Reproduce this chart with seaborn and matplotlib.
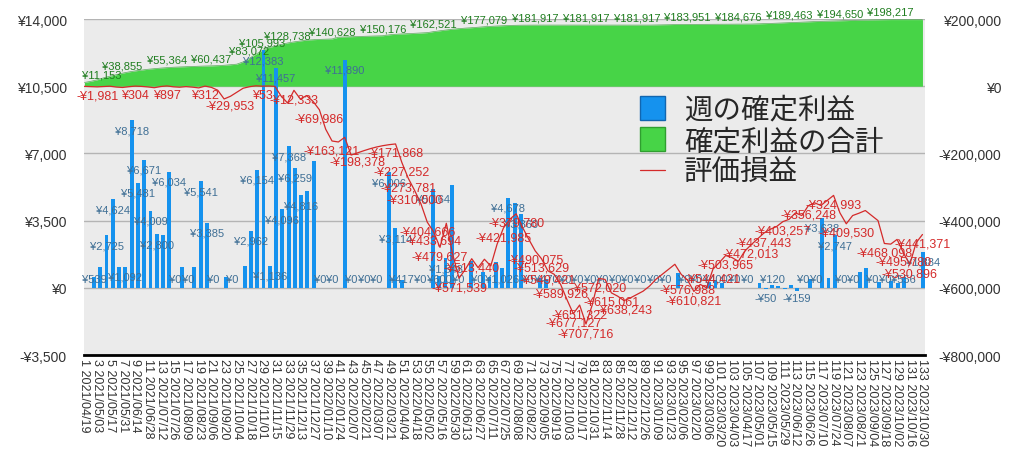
import matplotlib
matplotlib.use("Agg")
import matplotlib.pyplot as plt
from matplotlib.patches import Patch
from matplotlib.lines import Line2D
from matplotlib.transforms import Bbox
import numpy as np
import pandas as pd
import seaborn as sns

# ---- data ----
week_dates = pd.date_range("2021-04-19", periods=133, freq="7D")
week_no = np.arange(1, 134)

# 週の確定利益 (left axis, yen)
weekly_profit = [
    539, 1092, 2725, 4624, 1092, 1092, 8718, 5481, 6671, 4009,
    2800, 2751, 6034, 0, 1086, 0, 1086, 5541, 3385, 0,
    0, 539, 0, 0, 1111, 2962, 6154, 12383, 1136, 11457,
    4096, 7368, 6259, 4816, 5054, 6615, 0, 0, 0, 0,
    11890, 0, 0, 0, 0, 0, 0, 6006, 3114, 417,
    0, 0, 0, 0, 5164, 600, 1548, 5346, 0, 0,
    1374, 0, 817, 556, 1339, 1026, 4678, 4421, 3860, 0,
    0, 504, 470, 0, 0, 0, 0, 0, 0, 0,
    0, 0, 0, 0, 0, 0, 0, 0, 0, 0,
    0, 0, 0, 765, 0, 0, 0, 0, 300, 400,
    250, 0, 0, 0, 0, 0, 265, -50, 120, 106,
    -60, 156, -159, 0, 470, 0, 3638, 522, 2747, 0,
    0, 0, 817, 1043, 0, 296, 0, 348, 271, 556,
    0, 0, 1884,
]

# 確定利益の合計 (right axis, yen)
total_profit = [
    11153, 14500, 18900, 24800, 29700, 34200, 38855, 42500, 45600, 48100,
    50400, 52300, 53900, 55364, 56500, 57300, 58100, 58900, 59500, 60000,
    60437, 61200, 62300, 63800, 65600, 72400, 83072, 95400, 105993, 114800,
    119600, 124100, 128738, 131900, 134600, 137200, 138400, 139300, 140000, 140628,
    145800, 146600, 147300, 147900, 148500, 149100, 149700, 150176, 152900, 154600,
    155500, 156300, 157100, 158000, 159400, 162521, 164900, 167600, 169800, 171500,
    172900, 174100, 175700, 177079, 178300, 179200, 180100, 180900, 181400, 181700,
    181850, 181917, 181917, 181917, 181917, 181917, 181917, 181917, 181917, 181917,
    181917, 181917, 181917, 181917, 181917, 181917, 181917, 181917, 181917, 181917,
    182300, 182800, 183200, 183700, 183850, 183951, 184000, 184100, 184250, 184300,
    184400, 184500, 184600, 184676, 184800, 185000, 185500, 186100, 186800, 187600,
    188500, 189463, 190100, 190800, 191500, 192300, 193000, 193600, 194100, 194650,
    195200, 195800, 196300, 196800, 197200, 197600, 197900, 198217, 198217, 198217,
    198217, 198217, 198217,
]

# 評価損益 (right axis, yen)
unrealized = [
    -500, -1200, -1981, -900, 0, -2500, -3800, -1500, 304, -600,
    -2200, -4500, -1000, 897, -1800, -3000, -1200, -2800, -5000, 312,
    -3500, -12000, -38000, -29953, -18000, -6000, -1500, 1200, 53, 600,
    -500, -30000, -50000, -12333, -38000, -28000, -45000, -69986, -128000, -163121,
    -166000, -152000, -205000, -198378, -192000, -186000, -181000, -177000, -174000, -171868,
    -227252, -273781, -310000, -350000, -404666, -433694, -479627, -408000, -500000, -571539,
    -545000, -513440, -540000, -515000, -535000, -470000, -421985, -396000, -379780, -420000,
    -456000, -490075, -513629, -549421, -560000, -589926, -635000, -677127, -651322, -707716,
    -650000, -572020, -575000, -615061, -625000, -638243, -630000, -620000, -610000, -595000,
    -575000, -560000, -545000, -530000, -560000, -576988, -610821, -590000, -600000, -544421,
    -525000, -503965, -510000, -521000, -491000, -472013, -455000, -437443, -426000, -418000,
    -403257, -396000, -377000, -385000, -356248, -347000, -355000, -340000, -324993, -377000,
    -409530, -385000, -378000, -370000, -385000, -400000, -468098, -470000, -456000, -495780,
    -530896, -466000, -441371,
]

total_label_weeks = [1, 7, 14, 21, 27, 29, 33, 40, 48, 56, 64, 72, 80, 88,
                     96, 104, 112, 120, 128]
unrealized_label_weeks = [3, 9, 14, 20, 24, 29, 34, 38, 40, 44, 50, 51, 52, 53,
                          55, 56, 57, 60, 62, 67, 69, 72, 73, 74, 76, 78, 79, 80,
                          82, 84, 86, 96, 97, 100, 102, 106, 108, 111, 115, 119,
                          121, 127, 130, 131, 133]

left_ticks = [-3500, 0, 3500, 7000, 10500, 14000]
right_ticks = [-800000, -600000, -400000, -200000, 0, 200000]

assert len(weekly_profit) == len(total_profit) == len(unrealized) == 133


def yen(v):
    return f"-¥{abs(v):,}" if v < 0 else f"¥{v:,}"


BAR = "#1592ee"
BAR_EDGE = "#1166b0"
GREEN = "#47d447"
RED = "#d42a2a"
BLUE_TXT = "#3f6f95"
GREEN_TXT = "#1f7d1f"

sns.set_theme(style="white")
plt.rcParams["font.family"] = ["Liberation Sans", "Noto Sans CJK JP", "DejaVu Sans"]

fig = plt.figure(figsize=(10.24, 4.77), dpi=100)
rect = [83.5 / 1024, 1 - 356 / 477, (925 - 83.5) / 1024, (356 - 20) / 477]
ax_r = fig.add_axes(rect)                                   # area + right scale
ax_b = fig.add_axes(rect)                                   # bars, left scale
ax_l = fig.add_axes(rect, sharex=ax_r, sharey=ax_r)         # line + labels

idx = np.arange(133)

# cumulative realised profit as area
ax_r.set_facecolor("#ebebeb")
ax_r.fill_between(idx, 0, total_profit, color=GREEN, lw=0, zorder=1)
ax_r.plot(idx, total_profit, color="#5aa85a", lw=0.5, zorder=1.1)
ax_r.set_axisbelow(True)
ax_r.yaxis.grid(True, color="#b4b4b4", lw=1)
for s in ["top", "left", "right"]:
    ax_r.spines[s].set_visible(False)
ax_r.spines["bottom"].set_color("black")
ax_r.spines["bottom"].set_linewidth(2)
ax_r.yaxis.tick_right()
ax_r.set_yticks(right_ticks)
ax_r.set_yticklabels([yen(v) for v in right_ticks], fontsize=10, color="#333333")
for t in ax_r.get_yticklabels():
    t.set_ha("right")
ax_r.tick_params(axis="y", length=0, pad=55)
ax_r.set_xticks(idx[::2])
ax_r.set_xticklabels([f"{w} {d:%Y/%m/%d}" for w, d in zip(week_no[::2], week_dates[::2])],
                     rotation=270, fontsize=9, color="#333333")
ax_r.tick_params(axis="x", length=0, pad=2.5)

# weekly bars
sns.barplot(x=idx, y=weekly_profit, ax=ax_b, color=BAR, width=0.62, saturation=1,
            linewidth=0)
ax_b.patch.set_visible(False)
for s in ax_b.spines.values():
    s.set_visible(False)
ax_b.set_xlim(-1.67, 132.37)
ax_b.set_ylim(-3500, 14000)
ax_b.set_xticks([])
ax_b.set_xlabel("")
ax_b.set_yticks(left_ticks)
ax_b.set_yticklabels([yen(v) for v in left_ticks], fontsize=10, color="#333333")
ax_b.tick_params(axis="y", length=0, pad=12)

px_per_yen = 336 / 17500
blue_texts = []
for i, v in enumerate(weekly_profit):
    h = v * px_per_yen
    if v < 0:
        t = ax_b.annotate(yen(v), (i, 0), xytext=(0, -7), textcoords="offset points",
                          ha="center", va="center", fontsize=8, color=BLUE_TXT)
    elif h - 10 >= 9:
        t = ax_b.annotate(yen(v), (i, v), xytext=(0, -7.2), textcoords="offset points",
                          ha="center", va="center", fontsize=8, color=BLUE_TXT)
    else:
        t = ax_b.annotate(yen(v), (i, 0), xytext=(0, 6.5), textcoords="offset points",
                          ha="center", va="center", fontsize=8, color=BLUE_TXT)
    blue_texts.append(t)

# unrealised P/L line
sns.lineplot(x=idx, y=unrealized, ax=ax_l, color=RED, lw=0.9)
ax_l.axis("off")

for w in total_label_weeks:
    i = w - 1
    ha = "left" if w == 1 else "center"
    dx = -2 if w == 1 else 0
    ax_l.annotate(yen(total_profit[i]), (i, total_profit[i]), xytext=(dx, 5.5),
                  textcoords="offset points", ha=ha, va="center", fontsize=8,
                  color=GREEN_TXT)

for w in unrealized_label_weeks:
    i = w - 1
    ax_l.annotate(yen(unrealized[i]), (i, unrealized[i]), xytext=(0, -6.5),
                  textcoords="offset points", ha="center", va="center", fontsize=9,
                  color=RED)

ax_r.set_xlim(-0.15, 132.4)
ax_r.set_ylim(-800000, 200000)

handles = [Patch(facecolor=BAR, edgecolor=BAR_EDGE),
           Patch(facecolor=GREEN, edgecolor="#2f9f2f"),
           Line2D([], [], color=RED, lw=0.9)]
ax_l.legend(handles, ["週の確定利益", "確定利益の合計", "評価損益"],
            loc="upper left", bbox_to_anchor=(0.661, 0.775), frameon=False,
            handlelength=0.9, handleheight=0.9, handletextpad=0.65,
            labelspacing=0.05, borderpad=0, borderaxespad=0,
            prop={"family": ["Noto Sans CJK JP"], "size": 20.5})

# hide bar labels that would collide with ones already placed
fig.canvas.draw()
renderer = fig.canvas.get_renderer()
kept = []
for t in blue_texts:
    bb = t.get_window_extent(renderer)
    bb = Bbox.from_extents(bb.x0 + 1.5, bb.y0 + 1, bb.x1 - 1.5, bb.y1 - 1)
    if any(bb.overlaps(k) for k in kept):
        t.set_visible(False)
    else:
        kept.append(bb)

fig.savefig("out.png", dpi=100)
